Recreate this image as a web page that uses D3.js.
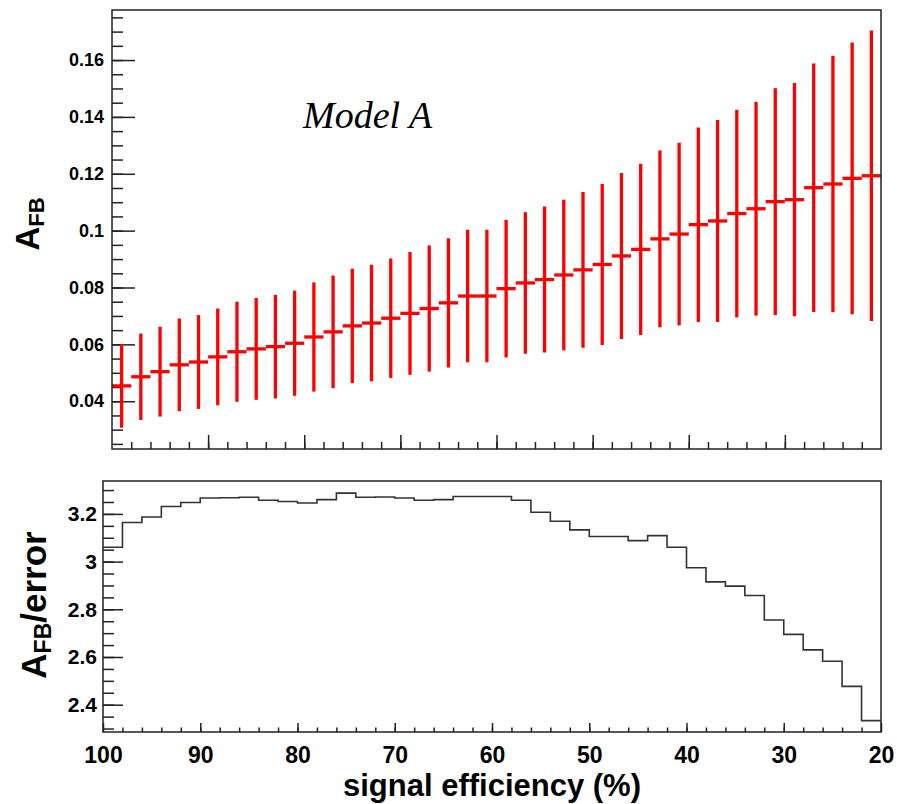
<!DOCTYPE html>
<html>
<head>
<meta charset="utf-8">
<script src="https://cdn.jsdelivr.net/npm/d3@7"></script>
<style>
  body { margin: 0; background: #fff; }
  svg text { font-family: "Liberation Sans", Arial, sans-serif; font-weight: bold; fill: #000; }
</style>
</head>
<body>
<svg id="chart" width="897" height="804"></svg>
<script>
// bin low edges (signal efficiency, %), bins are 2% wide, drawn from 100 down to 20
const binEdges = d3.range(100, 20, -2);
// A_FB central values per bin
const afb = [0.0454, 0.0486, 0.0504, 0.0528, 0.0538, 0.0556, 0.0574, 0.0584, 0.0592, 0.0604,
             0.0626, 0.0644, 0.0665, 0.0675, 0.0692, 0.0709, 0.0726, 0.0746, 0.0770, 0.0770,
             0.0796, 0.0816, 0.0828, 0.0844, 0.0862, 0.0881, 0.0911, 0.0934, 0.0971, 0.0988,
             0.1021, 0.1034, 0.1060, 0.1077, 0.1102, 0.1109, 0.1151, 0.1164, 0.1184, 0.1193];
// symmetric errors on A_FB
const afbErr = [0.0147, 0.0152, 0.0158, 0.0163, 0.0165, 0.0170, 0.0176, 0.0179, 0.0182, 0.0185,
                0.0192, 0.0198, 0.0201, 0.0205, 0.0210, 0.0216, 0.0222, 0.0227, 0.0233, 0.0233,
                0.0242, 0.0249, 0.0257, 0.0265, 0.0274, 0.0283, 0.0292, 0.0301, 0.0311, 0.0321,
                0.0342, 0.0355, 0.0365, 0.0376, 0.0399, 0.0410, 0.0437, 0.0451, 0.0478, 0.0511];
// A_FB / error per bin (lower panel)
const ratio = [3.060, 3.164, 3.187, 3.231, 3.248, 3.267, 3.268, 3.270, 3.257, 3.252,
               3.246, 3.260, 3.287, 3.270, 3.271, 3.267, 3.257, 3.260, 3.273, 3.273,
               3.273, 3.257, 3.207, 3.169, 3.133, 3.105, 3.105, 3.088, 3.109, 3.060,
               2.974, 2.915, 2.897, 2.858, 2.755, 2.695, 2.630, 2.582, 2.477, 2.333];
const xTickLabels = [100, 90, 80, 70, 60, 50, 40, 30, 20];
const topMajor = [0.04, 0.06, 0.08, 0.10, 0.12, 0.14, 0.16];
const bottomMajor = [2.4, 2.6, 2.8, 3.0, 3.2];

const svg = d3.select("#chart");

// ---- upper panel ----
const topP = { l: 112, r: 881, t: 10, b: 449 };
const xTop = d3.scaleLinear().domain([100, 20]).range([topP.l, topP.r]);
const yTop = d3.scaleLinear().domain([0.0232, 0.1776]).range([topP.b, topP.t]);

const gTop = svg.append("g");

gTop.append("g").attr("transform", `translate(${topP.l},0)`)
  .call(d3.axisLeft(yTop).tickValues(d3.range(0.025, 0.1776, 0.005)).tickSizeInner(-11).tickSizeOuter(0).tickFormat(""))
  .call(g => g.select(".domain").remove());
gTop.append("g").attr("transform", `translate(${topP.l},0)`)
  .call(d3.axisLeft(yTop).tickValues(topMajor).tickSizeInner(-23).tickSizeOuter(0).tickPadding(8)
    .tickFormat(d => String(+d.toFixed(2))))
  .call(g => g.select(".domain").remove())
  .call(g => g.selectAll("text").style("font-size", "18px").attr("font-family", null));

gTop.append("g").attr("transform", `translate(0,${topP.b})`)
  .call(d3.axisBottom(xTop).tickValues(d3.range(98, 20, -2)).tickSizeInner(-7).tickSizeOuter(0).tickFormat(""))
  .call(g => g.select(".domain").remove());
gTop.append("g").attr("transform", `translate(0,${topP.b})`)
  .call(d3.axisBottom(xTop).tickValues(xTickLabels.slice(1, -1)).tickSizeInner(-14).tickSizeOuter(0).tickFormat(""))
  .call(g => g.select(".domain").remove());

svg.selectAll(".tick line").attr("stroke", "#222").attr("stroke-width", 1.5);

const bins = binEdges.map((lo, i) => ({ lo, hi: lo - 2, v: afb[i], e: afbErr[i] }));

gTop.append("g").selectAll("line.v").data(bins).join("line")
  .attr("x1", d => xTop(d.lo - 1)).attr("x2", d => xTop(d.lo - 1))
  .attr("y1", d => yTop(d.v - d.e)).attr("y2", d => yTop(d.v + d.e))
  .attr("stroke", "#ff0000").attr("stroke-width", 3.3);
gTop.append("g").selectAll("line.h").data(bins).join("line")
  .attr("x1", d => xTop(d.lo)).attr("x2", d => xTop(d.hi))
  .attr("y1", d => yTop(d.v)).attr("y2", d => yTop(d.v))
  .attr("stroke", "#ff0000").attr("stroke-width", 3.3);

gTop.append("rect")
  .attr("x", topP.l).attr("y", topP.t).attr("width", topP.r - topP.l).attr("height", topP.b - topP.t)
  .attr("fill", "none").attr("stroke", "#222").attr("stroke-width", 1.5);

gTop.append("text")
  .attr("x", 303).attr("y", 128)
  .style("font-family", '"Liberation Serif", "Times New Roman", serif')
  .style("font-style", "italic").style("font-weight", "normal")
  .style("font-size", "38px")
  .text("Model A");

const tTop = gTop.append("text")
  .attr("transform", "translate(39,224) rotate(-90)")
  .attr("text-anchor", "middle");
tTop.append("tspan").style("font-size", "33px").text("A");
tTop.append("tspan").style("font-size", "22px").attr("dy", 5).text("FB");

// ---- lower panel ----
const botP = { l: 103, r: 881, t: 481, b: 732 };
const xBot = d3.scaleLinear().domain([100, 20]).range([botP.l, botP.r]);
const yBot = d3.scaleLinear().domain([2.2855, 3.338]).range([botP.b, botP.t]);

const gBot = svg.append("g");

gBot.append("g").attr("transform", `translate(${botP.l},0)`)
  .call(d3.axisLeft(yBot).tickValues(d3.range(2.3, 3.34, 0.05)).tickSizeInner(-11).tickSizeOuter(0).tickFormat(""))
  .call(g => g.select(".domain").remove());
gBot.append("g").attr("transform", `translate(${botP.l},0)`)
  .call(d3.axisLeft(yBot).tickValues(bottomMajor).tickSizeInner(-20).tickSizeOuter(0).tickPadding(6)
    .tickFormat(d => String(+d.toFixed(1))))
  .call(g => g.select(".domain").remove())
  .call(g => g.selectAll("text").style("font-size", "21px").attr("font-family", null));

gBot.append("g").attr("transform", `translate(0,${botP.b})`)
  .call(d3.axisBottom(xBot).tickValues(d3.range(98, 20, -2)).tickSizeInner(-4.5).tickSizeOuter(0).tickFormat(""))
  .call(g => g.select(".domain").remove());
gBot.append("g").attr("transform", `translate(0,${botP.b})`)
  .call(d3.axisBottom(xBot).tickValues(xTickLabels).tickSizeInner(-9).tickSizeOuter(0).tickPadding(15)
    .tickFormat(d3.format("d")))
  .call(g => g.select(".domain").remove())
  .call(g => g.selectAll("text").style("font-size", "23px").attr("font-family", null));

svg.selectAll(".tick line").attr("stroke", "#222").attr("stroke-width", 1.5);

const stepPts = binEdges.map((lo, i) => [lo, ratio[i]]);
stepPts.push([20, ratio[ratio.length - 1]]);
gBot.append("path")
  .datum(stepPts)
  .attr("fill", "none").attr("stroke", "#333").attr("stroke-width", 1.6)
  .attr("d", d3.line().x(d => xBot(d[0])).y(d => yBot(d[1])).curve(d3.curveStepAfter));

gBot.append("rect")
  .attr("x", botP.l).attr("y", botP.t).attr("width", botP.r - botP.l).attr("height", botP.b - botP.t)
  .attr("fill", "none").attr("stroke", "#222").attr("stroke-width", 1.5);

const tBot = gBot.append("text")
  .attr("transform", "translate(46,605) rotate(-90)")
  .attr("text-anchor", "middle");
tBot.append("tspan").style("font-size", "35px").text("A");
tBot.append("tspan").style("font-size", "23px").attr("dy", 5).text("FB");
tBot.append("tspan").style("font-size", "35px").attr("dy", -5).text("/error");

gBot.append("text")
  .attr("x", (botP.l + botP.r) / 2).attr("y", 796)
  .attr("text-anchor", "middle")
  .style("font-size", "31px")
  .text("signal efficiency (%)");
</script>
</body>
</html>
